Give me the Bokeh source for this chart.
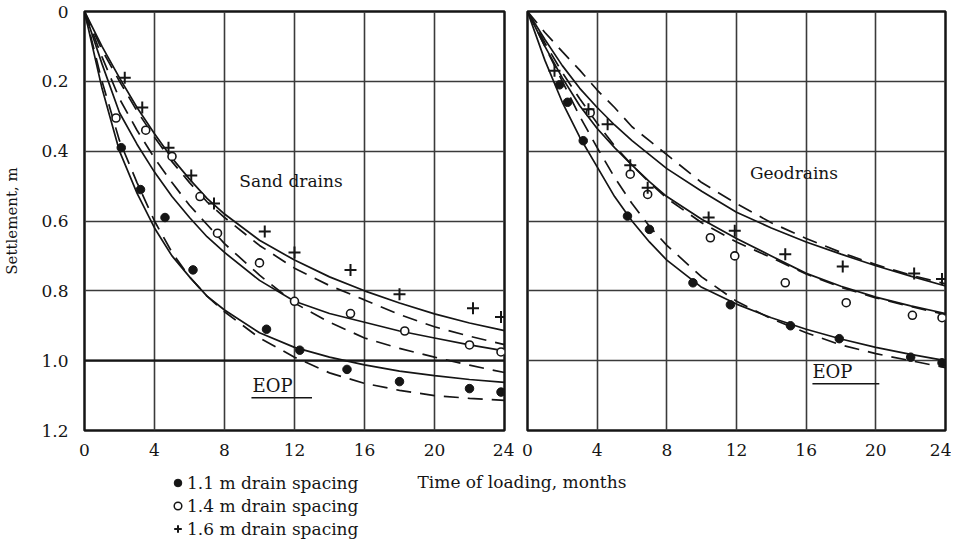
import numpy as np
from bokeh.plotting import figure
from bokeh.models import Range1d, FixedTicker, Label, Legend, LegendItem, ColumnDataSource, Span
from bokeh.layouts import row, column
from bokeh.embed import file_html
from bokeh.resources import INLINE

# ---------------- data ----------------
x_ticks = [0, 4, 8, 12, 16, 20, 24]
y_ticks = [0, 0.2, 0.4, 0.6, 0.8, 1.0, 1.2]
y_tick_labels = ["0", "0.2", "0.4", "0.6", "0.8", "1.0", "1.2"]
spacing_labels = ["1.1 m drain spacing", "1.4 m drain spacing", "1.6 m drain spacing"]
panel_titles = ["Sand drains", "Geodrains"]
x_title = "Time of loading, months"
y_title = "Settlement, m"

# measured points, sand drains
sand_t_11 = [2.1, 3.2, 4.6, 6.2, 10.4, 12.3, 15.0, 18.0, 22.0, 23.8]
sand_s_11 = [0.39, 0.51, 0.59, 0.74, 0.91, 0.97, 1.025, 1.06, 1.08, 1.09]
sand_t_14 = [1.8, 3.5, 5.0, 6.6, 7.6, 10.0, 12.0, 15.2, 18.3, 22.0, 23.8]
sand_s_14 = [0.305, 0.34, 0.415, 0.53, 0.635, 0.72, 0.83, 0.865, 0.915, 0.955, 0.975]
sand_t_16 = [2.3, 3.3, 4.8, 6.1, 7.4, 10.3, 12.0, 15.2, 18.0, 22.2, 23.8]
sand_s_16 = [0.19, 0.275, 0.39, 0.47, 0.55, 0.63, 0.69, 0.74, 0.81, 0.85, 0.875]

# measured points, geodrains
geo_t_11 = [1.84, 2.3, 3.2, 5.74, 7.0, 9.5, 11.65, 15.1, 17.9, 22.0, 23.8]
geo_s_11 = [0.21, 0.26, 0.37, 0.586, 0.624, 0.777, 0.84, 0.9, 0.937, 0.99, 1.006]
geo_t_14 = [3.6, 5.9, 6.9, 10.5, 11.9, 14.8, 18.3, 22.1, 23.8]
geo_s_14 = [0.29, 0.466, 0.524, 0.648, 0.70, 0.777, 0.834, 0.87, 0.877]
geo_t_16 = [1.55, 3.5, 4.6, 5.9, 6.9, 10.4, 11.9, 14.8, 18.1, 22.2, 23.8]
geo_s_16 = [0.17, 0.28, 0.323, 0.44, 0.505, 0.59, 0.628, 0.695, 0.73, 0.75, 0.766]

# curves
t_curve = [0, 1, 2, 3, 4, 5, 6, 7, 8, 10, 12, 14, 16, 18, 20, 22, 24]
sand_solid_11 = [0, 0.22, 0.40, 0.52, 0.62, 0.70, 0.76, 0.815, 0.855, 0.92, 0.962, 0.99, 1.012, 1.03, 1.043, 1.054, 1.062]
sand_dash_11 = [0, 0.20, 0.37, 0.49, 0.60, 0.69, 0.76, 0.815, 0.86, 0.935, 0.99, 1.035, 1.065, 1.085, 1.10, 1.108, 1.114]
sand_solid_14 = [0, 0.15, 0.29, 0.38, 0.46, 0.53, 0.59, 0.645, 0.69, 0.77, 0.83, 0.865, 0.89, 0.915, 0.935, 0.955, 0.972]
sand_dash_14 = [0, 0.13, 0.25, 0.34, 0.42, 0.49, 0.555, 0.61, 0.665, 0.755, 0.835, 0.89, 0.935, 0.965, 0.99, 1.013, 1.034]
sand_solid_16 = [0, 0.10, 0.19, 0.275, 0.35, 0.42, 0.48, 0.535, 0.58, 0.655, 0.712, 0.76, 0.80, 0.835, 0.866, 0.892, 0.914]
sand_dash_16 = [0, 0.11, 0.20, 0.285, 0.36, 0.43, 0.49, 0.545, 0.59, 0.67, 0.735, 0.785, 0.826, 0.868, 0.903, 0.93, 0.954]

geo_solid_11 = [0, 0.14, 0.26, 0.36, 0.445, 0.53, 0.60, 0.66, 0.712, 0.79, 0.838, 0.877, 0.91, 0.938, 0.962, 0.982, 1.0]
geo_dash_11 = [0, 0.10, 0.20, 0.30, 0.39, 0.475, 0.55, 0.615, 0.67, 0.76, 0.83, 0.88, 0.92, 0.955, 0.98, 1.0, 1.02]
geo_solid_14 = [0, 0.10, 0.19, 0.27, 0.335, 0.39, 0.44, 0.487, 0.53, 0.595, 0.65, 0.70, 0.75, 0.787, 0.818, 0.843, 0.865]
geo_dash_14 = [0, 0.09, 0.175, 0.25, 0.32, 0.385, 0.44, 0.49, 0.535, 0.605, 0.66, 0.705, 0.752, 0.79, 0.82, 0.845, 0.868]
geo_solid_16 = [0, 0.08, 0.155, 0.22, 0.275, 0.325, 0.37, 0.41, 0.45, 0.515, 0.575, 0.62, 0.66, 0.695, 0.728, 0.758, 0.786]
geo_dash_16 = [0, 0.06, 0.115, 0.168, 0.225, 0.275, 0.33, 0.37, 0.41, 0.49, 0.55, 0.605, 0.65, 0.69, 0.725, 0.755, 0.78]

# EOP marks: text position, underline extent
eop_text = "EOP"
sand_eop_x, sand_eop_y = 9.6, 1.07
sand_eop_line_x, sand_eop_line_y = [9.54, 13.0], [1.106, 1.106]
geo_eop_x, geo_eop_y = 16.36, 1.03
geo_eop_line_x, geo_eop_line_y = [16.36, 20.2], [1.066, 1.066]
sand_title_pos = (11.8, 0.486)
geo_title_pos = (15.3, 0.463)
sand_heavy_line = 1.0

# ---------------- style ----------------
FONT = "DejaVu Serif"
INK = "#151515"
GRID = "#3a3a3a"
DASH = "15 9"
LW = 1.7


def make_panel(fl, fr, fw, show_y):
    p = figure(frame_width=fw, frame_height=419,
               min_border_left=fl, min_border_right=fr,
               min_border_top=11, min_border_bottom=30,
               x_range=Range1d(0, 24), y_range=Range1d(1.2, 0),
               output_backend="svg", toolbar_location=None)
    p.background_fill_color = "white"
    p.border_fill_color = "white"
    p.outline_line_color = INK
    p.outline_line_width = 2.5
    p.xaxis.ticker = FixedTicker(ticks=x_ticks)
    p.yaxis.ticker = FixedTicker(ticks=y_ticks)
    p.xgrid.ticker = FixedTicker(ticks=x_ticks)
    p.ygrid.ticker = FixedTicker(ticks=y_ticks)
    for g in (p.xgrid, p.ygrid):
        g.grid_line_color = GRID
        g.grid_line_width = 1.6
    for ax in (p.xaxis, p.yaxis):
        ax.axis_line_color = None
        ax.major_tick_line_color = None
        ax.minor_tick_line_color = None
        ax.major_label_text_font = FONT
        ax.major_label_text_font_size = "17px"
        ax.major_label_text_color = INK
    p.xaxis.major_label_standoff = 7
    p.yaxis.major_label_standoff = 10
    p.yaxis.major_label_overrides = {v: s for v, s in zip(y_ticks, y_tick_labels)}
    if show_y:
        p.yaxis.axis_label = y_title
        p.yaxis.axis_label_text_font = FONT
        p.yaxis.axis_label_text_font_size = "15px"
        p.yaxis.axis_label_text_font_style = "normal"
        p.yaxis.axis_label_text_color = INK
        p.yaxis.axis_label_standoff = 17
    else:
        p.yaxis.visible = False
    return p


def draw(p, solids, dashes, pts):
    for s in solids:
        p.line(t_curve, s, line_color=INK, line_width=LW)
    for d in dashes:
        p.line(t_curve, d, line_color=INK, line_width=LW, line_dash=DASH)
    (t11, s11), (t14, s14), (t16, s16) = pts
    p.scatter(t11, s11, marker="circle", size=8.5, fill_color=INK, line_color=INK)
    p.scatter(t14, s14, marker="circle", size=8, fill_color="white", line_color=INK, line_width=1.6)
    p.scatter(t16, s16, marker="cross", size=12, line_color=INK, line_width=2)


def text_label(p, x, y, txt, size="17px", align="center"):
    p.add_layout(Label(x=x, y=y, text=txt, text_font=FONT, text_font_size=size,
                       text_color=INK, text_align=align, text_baseline="middle"))


p1 = make_panel(82, 10, 420, True)
p1.add_layout(Span(location=sand_heavy_line, dimension="width", line_color=INK, line_width=2.4))
draw(p1, [sand_solid_11, sand_solid_14, sand_solid_16],
     [sand_dash_11, sand_dash_14, sand_dash_16],
     [(sand_t_11, sand_s_11), (sand_t_14, sand_s_14), (sand_t_16, sand_s_16)])
text_label(p1, sand_title_pos[0], sand_title_pos[1], panel_titles[0])
text_label(p1, sand_eop_x, sand_eop_y, eop_text, "18px", "left")
p1.line(sand_eop_line_x, sand_eop_line_y, line_color=INK, line_width=1.6)

p2 = make_panel(13, 6, 418, False)
draw(p2, [geo_solid_11, geo_solid_14, geo_solid_16],
     [geo_dash_11, geo_dash_14, geo_dash_16],
     [(geo_t_11, geo_s_11), (geo_t_14, geo_s_14), (geo_t_16, geo_s_16)])
text_label(p2, geo_title_pos[0], geo_title_pos[1], panel_titles[1])
text_label(p2, geo_eop_x, geo_eop_y, eop_text, "18px", "left")
p2.line(geo_eop_line_x, geo_eop_line_y, line_color=INK, line_width=1.6)

# bottom strip: legend and shared x title (pixel-like ranges)
p3 = figure(width=949, height=80, x_range=Range1d(0, 949), y_range=Range1d(80, 0),
            x_axis_type=None, y_axis_type=None, min_border=0,
            output_backend="svg", toolbar_location=None)
p3.outline_line_color = None
p3.xgrid.visible = False
p3.ygrid.visible = False
dummy = ColumnDataSource(data=dict(x=np.array([np.nan]), y=np.array([np.nan])))
r1 = p3.scatter("x", "y", source=dummy, marker="circle", size=8, fill_color=INK, line_color=INK)
r2 = p3.scatter("x", "y", source=dummy, marker="circle", size=8, fill_color="white", line_color=INK, line_width=1.5)
r3 = p3.scatter("x", "y", source=dummy, marker="cross", size=10, line_color=INK, line_width=2)
legend = Legend(items=[LegendItem(label=spacing_labels[0], renderers=[r1]),
                       LegendItem(label=spacing_labels[1], renderers=[r2]),
                       LegendItem(label=spacing_labels[2], renderers=[r3])],
                location=(168, 0), orientation="vertical",
                glyph_width=19, glyph_height=23, label_height=23,
                label_standoff=0, spacing=0, padding=0, margin=0,
                label_text_font=FONT, label_text_font_size="17px",
                label_text_color=INK, border_line_color=None,
                background_fill_alpha=0)
p3.add_layout(legend, "center")
p3.add_layout(Label(x=417, y=21, text=x_title, text_font=FONT, text_font_size="17px",
                    text_color=INK, text_align="left", text_baseline="middle"))

layout = column(row(p1, p2), p3)
open("out.html", "w").write(file_html(layout, INLINE))
